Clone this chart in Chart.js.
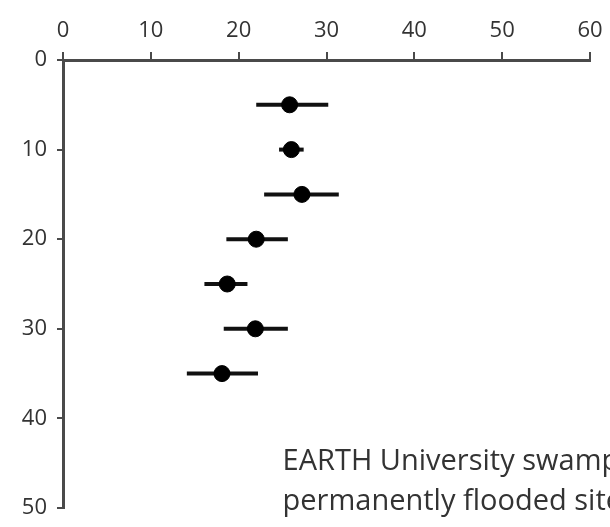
<!DOCTYPE html>
<html>
<head>
<meta charset="utf-8">
<script src="https://cdn.jsdelivr.net/npm/chart.js@4/dist/chart.umd.min.js"></script>
<style>
  html, body { margin: 0; padding: 0; background: #fff; overflow: hidden; }
  #wrap { width: 610px; height: 527px; }
</style>
</head>
<body>
<div id="wrap"><canvas id="depthChart"></canvas></div>
<script>
// depth (y, reversed) vs value (x) with horizontal error bars
var depths = [5, 10, 15, 20, 25, 30, 35];
var means = [25.8, 26.0, 27.2, 22.0, 18.7, 21.9, 18.1];
var lows = [22.0, 24.6, 22.9, 18.6, 16.1, 18.3, 14.1];
var highs = [30.2, 27.4, 31.4, 25.6, 21.0, 25.6, 22.2];
var xTicks = [0, 10, 20, 30, 40, 50, 60];
var yTicks = [0, 10, 20, 30, 40, 50];
var noteLines = ["EARTH University swamp", "permanently flooded site"];

var axisColor = '#4a4a4a';
var textColor = '#333';

// error bars under the points
var errorBars = {
  id: 'errorBars',
  beforeDatasetsDraw: function(chart) {
    var ctx = chart.ctx, xs = chart.scales.x, ys = chart.scales.y;
    ctx.save();
    ctx.strokeStyle = '#111';
    ctx.lineWidth = 4;
    for (var i = 0; i < depths.length; i++) {
      var py = ys.getPixelForValue(depths[i]);
      ctx.beginPath();
      ctx.moveTo(xs.getPixelForValue(lows[i]), py);
      ctx.lineTo(xs.getPixelForValue(highs[i]), py);
      ctx.stroke();
    }
    ctx.restore();
  }
};

// site note in lower right, runs off the edge like the original
var note = {
  id: 'note',
  afterDraw: function(chart) {
    var ctx = chart.ctx, xs = chart.scales.x, ys = chart.scales.y;
    ctx.save();
    ctx.fillStyle = textColor;
    ctx.font = '29px "Open Sans"';
    ctx.textBaseline = 'alphabetic';
    var x = xs.getPixelForValue(25);
    var y = ys.getPixelForValue(45.8);
    noteLines.forEach(function(t, k) { ctx.fillText(t, x, y + k * 40); });
    ctx.restore();
  }
};

var ctx = document.getElementById('depthChart').getContext('2d');
var myChart = new Chart(ctx, {
  type: 'scatter',
  data: {
    datasets: [{
      data: depths.map(function(d, i) { return { x: means[i], y: d }; }),
      backgroundColor: '#000',
      borderColor: '#000',
      pointRadius: 8,
      pointHoverRadius: 8
    }]
  },
  options: {
    responsive: true,
    maintainAspectRatio: false,
    animation: false,
    layout: { padding: { left: 0, right: 20, top: 0, bottom: 19 } },
    plugins: { legend: { display: false }, tooltip: { enabled: false } },
    scales: {
      x: {
        position: 'top',
        min: 0, max: 60,
        afterBuildTicks: function(s) { s.ticks = xTicks.map(function(v) { return { value: v }; }); },
        afterFit: function(s) { s.height = 60; s.paddingLeft = 0; s.paddingRight = 0; },
        grid: { drawOnChartArea: false, drawTicks: true, tickLength: 8, color: axisColor, lineWidth: 2 },
        border: { display: true, color: axisColor, width: 3 },
        ticks: { color: textColor, font: { family: 'Open Sans', size: 22 }, padding: 8 }
      },
      y: {
        reverse: true,
        min: 0, max: 50,
        afterBuildTicks: function(s) { s.ticks = yTicks.map(function(v) { return { value: v }; }); },
        afterFit: function(s) { s.width = 63; s.paddingTop = 0; s.paddingBottom = 0; },
        grid: { drawOnChartArea: false, drawTicks: true, tickLength: 6, color: axisColor, lineWidth: 2 },
        border: { display: true, color: axisColor, width: 3 },
        ticks: { color: textColor, font: { family: 'Open Sans', size: 22 }, padding: 10 }
      }
    }
  },
  plugins: [errorBars, note]
});
</script>
</body>
</html>
